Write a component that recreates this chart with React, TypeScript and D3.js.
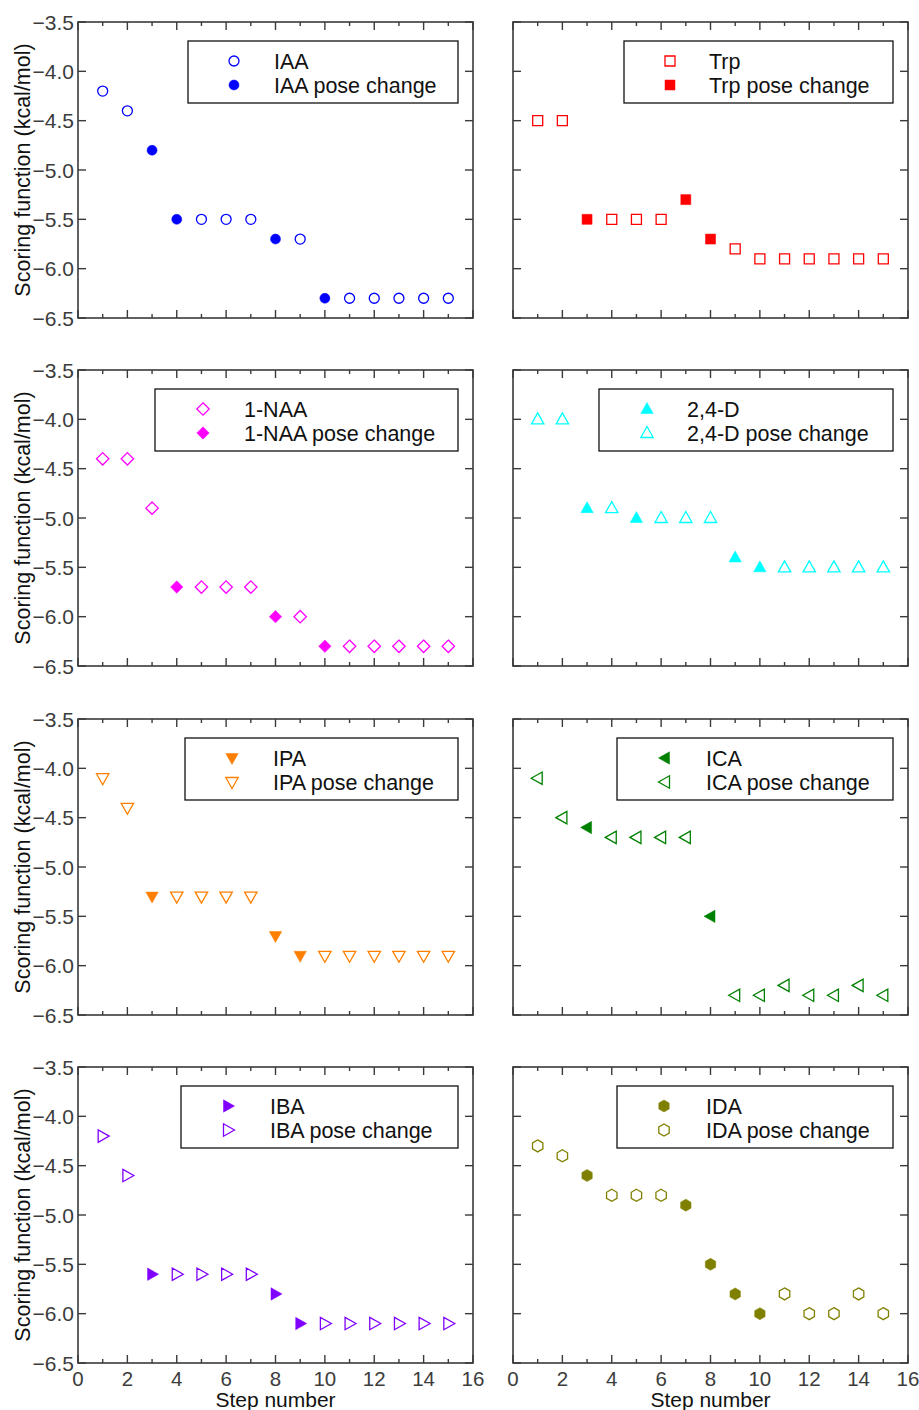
import React from 'react';
import * as d3 from 'd3';

const steps = [1, 2, 3, 4, 5, 6, 7, 8, 9, 10, 11, 12, 13, 14, 15];

const iaaScores = [-4.2, -4.4, -4.8, -5.5, -5.5, -5.5, -5.5, -5.7, -5.7, -6.3, -6.3, -6.3, -6.3, -6.3, -6.3];
const iaaFilledSteps = [3, 4, 8, 10];

const trpScores = [-4.5, -4.5, -5.5, -5.5, -5.5, -5.5, -5.3, -5.7, -5.8, -5.9, -5.9, -5.9, -5.9, -5.9, -5.9];
const trpFilledSteps = [3, 7, 8];

const naaScores = [-4.4, -4.4, -4.9, -5.7, -5.7, -5.7, -5.7, -6.0, -6.0, -6.3, -6.3, -6.3, -6.3, -6.3, -6.3];
const naaFilledSteps = [4, 8, 10];

const d24Scores = [-4.0, -4.0, -4.9, -4.9, -5.0, -5.0, -5.0, -5.0, -5.4, -5.5, -5.5, -5.5, -5.5, -5.5, -5.5];
const d24FilledSteps = [3, 5, 9, 10];

const ipaScores = [-4.1, -4.4, -5.3, -5.3, -5.3, -5.3, -5.3, -5.7, -5.9, -5.9, -5.9, -5.9, -5.9, -5.9, -5.9];
const ipaFilledSteps = [3, 8, 9];

const icaScores = [-4.1, -4.5, -4.6, -4.7, -4.7, -4.7, -4.7, -5.5, -6.3, -6.3, -6.2, -6.3, -6.3, -6.2, -6.3];
const icaFilledSteps = [3, 8];

const ibaScores = [-4.2, -4.6, -5.6, -5.6, -5.6, -5.6, -5.6, -5.8, -6.1, -6.1, -6.1, -6.1, -6.1, -6.1, -6.1];
const ibaFilledSteps = [3, 8, 9];

const idaScores = [-4.3, -4.4, -4.6, -4.8, -4.8, -4.8, -4.9, -5.5, -5.8, -6.0, -5.8, -6.0, -6.0, -5.8, -6.0];
const idaFilledSteps = [3, 7, 8, 9, 10];

const xTicks = [0, 2, 4, 6, 8, 10, 12, 14, 16];
const xMinorTicks = [1, 3, 5, 7, 9, 11, 13, 15];
const yTicks = [-3.5, -4.0, -4.5, -5.0, -5.5, -6.0, -6.5];

type Shape = 'circle' | 'square' | 'diamond' | 'up' | 'down' | 'left' | 'right' | 'hex';

function markerPath(shape: Shape): string {
  switch (shape) {
    case 'circle': {
      const r = 5;
      return `M${r},0A${r},${r} 0 1,1 ${-r},0A${r},${r} 0 1,1 ${r},0Z`;
    }
    case 'square': {
      const h = 5;
      return `M${-h},${-h}L${h},${-h}L${h},${h}L${-h},${h}Z`;
    }
    case 'diamond': {
      const h = 6.2;
      return `M0,${-h}L${h},0L0,${h}L${-h},0Z`;
    }
    case 'up':
      return `M0,-6.5L6.2,4.5L-6.2,4.5Z`;
    case 'down':
      return `M0,6.5L6.2,-4.5L-6.2,-4.5Z`;
    case 'left':
      return `M-6.5,0L4.5,-6.2L4.5,6.2Z`;
    case 'right':
      return `M6.5,0L-4.5,-6.2L-4.5,6.2Z`;
    case 'hex': {
      const r = 6;
      const pts = d3.range(6).map((i) => {
        const a = (Math.PI / 3) * i - Math.PI / 2;
        return [r * Math.cos(a), r * Math.sin(a)];
      });
      return 'M' + pts.map((p) => p.join(',')).join('L') + 'Z';
    }
  }
}

interface Panel {
  scores: number[];
  filled: number[];
  color: string;
  shape: Shape;
  labels: [string, string];
  firstFilled: boolean;
  col: number;
  row: number;
  boxLeft: number;
  markerDx: number;
  textDx: number;
}

const panels: Panel[] = [
  { scores: iaaScores, filled: iaaFilledSteps, color: '#0000ff', shape: 'circle', labels: ['IAA', 'IAA pose change'], firstFilled: false, col: 0, row: 0, boxLeft: 188, markerDx: 46, textDx: 86 },
  { scores: trpScores, filled: trpFilledSteps, color: '#ff0000', shape: 'square', labels: ['Trp', 'Trp pose change'], firstFilled: false, col: 1, row: 0, boxLeft: 624, markerDx: 46, textDx: 85 },
  { scores: naaScores, filled: naaFilledSteps, color: '#ff00ff', shape: 'diamond', labels: ['1-NAA', '1-NAA pose change'], firstFilled: false, col: 0, row: 1, boxLeft: 155, markerDx: 48, textDx: 89 },
  { scores: d24Scores, filled: d24FilledSteps, color: '#00ffff', shape: 'up', labels: ['2,4-D', '2,4-D pose change'], firstFilled: true, col: 1, row: 1, boxLeft: 599, markerDx: 48, textDx: 88 },
  { scores: ipaScores, filled: ipaFilledSteps, color: '#ff7f00', shape: 'down', labels: ['IPA', 'IPA pose change'], firstFilled: true, col: 0, row: 2, boxLeft: 185, markerDx: 47, textDx: 88 },
  { scores: icaScores, filled: icaFilledSteps, color: '#008000', shape: 'left', labels: ['ICA', 'ICA pose change'], firstFilled: true, col: 1, row: 2, boxLeft: 617, markerDx: 48, textDx: 89 },
  { scores: ibaScores, filled: ibaFilledSteps, color: '#7f00ff', shape: 'right', labels: ['IBA', 'IBA pose change'], firstFilled: true, col: 0, row: 3, boxLeft: 181, markerDx: 47, textDx: 89 },
  { scores: idaScores, filled: idaFilledSteps, color: '#808000', shape: 'hex', labels: ['IDA', 'IDA pose change'], firstFilled: true, col: 1, row: 3, boxLeft: 617, markerDx: 47, textDx: 89 },
];

const colX: [number, number][] = [
  [78, 473],
  [513, 908],
];
const rowTop = [22, 370, 719, 1067];
const panelH = 296;

const FONT = '"Liberation Sans", Arial, sans-serif';
const AXIS = '#3a3a3a';
const TICKTXT = '#3c3c3c';

function PanelView({ p }: { p: Panel }) {
  const [x0, x1] = colX[p.col];
  const top = rowTop[p.row];
  const bottom = top + panelH;
  const x = d3.scaleLinear().domain([0, 16]).range([x0, x1]);
  const y = d3.scaleLinear().domain([-3.5, -6.5]).range([top, bottom]);
  const path = markerPath(p.shape);
  const showX = p.row === 3;
  const showY = p.col === 0;
  const boxRight = x1 - 15;
  const boxTop = top + 19;
  const boxBottom = top + 81;
  const legendItems = p.firstFilled ? [true, false] : [false, true];

  return (
    <g>
      <rect x={x0} y={top} width={x1 - x0} height={panelH} fill="none" stroke={AXIS} strokeWidth={1.6} />
      {xTicks.map((t) => (
        <g key={'xt' + t}>
          <line x1={x(t)} x2={x(t)} y1={bottom} y2={bottom - 8} stroke={AXIS} strokeWidth={1.4} />
          <line x1={x(t)} x2={x(t)} y1={top} y2={top + 8} stroke={AXIS} strokeWidth={1.4} />
        </g>
      ))}
      {xMinorTicks.map((t) => (
        <g key={'xm' + t}>
          <line x1={x(t)} x2={x(t)} y1={bottom} y2={bottom - 4} stroke={AXIS} strokeWidth={1.4} />
          <line x1={x(t)} x2={x(t)} y1={top} y2={top + 4} stroke={AXIS} strokeWidth={1.4} />
        </g>
      ))}
      {yTicks.map((t) => (
        <g key={'yt' + t}>
          <line x1={x0} x2={x0 + 8} y1={y(t)} y2={y(t)} stroke={AXIS} strokeWidth={1.4} />
          <line x1={x1} x2={x1 - 8} y1={y(t)} y2={y(t)} stroke={AXIS} strokeWidth={1.4} />
          {showY && (
            <text x={x0 - 4} y={y(t) + 7.5} textAnchor="end" fontFamily={FONT} fontSize={21} fill={TICKTXT}>
              {'\u2212' + Math.abs(t).toFixed(1)}
            </text>
          )}
        </g>
      ))}
      {showX &&
        xTicks.map((t) => (
          <text key={'xl' + t} x={x(t)} y={bottom + 22.5} textAnchor="middle" fontFamily={FONT} fontSize={20.5} fill={TICKTXT}>
            {t}
          </text>
        ))}
      {showX && (
        <text x={(x0 + x1) / 2} y={bottom + 43.5} textAnchor="middle" fontFamily={FONT} fontSize={21} fill="#111">
          Step number
        </text>
      )}
      {showY && (
        <text
          transform={`translate(29.5,${(top + bottom) / 2}) rotate(-90)`}
          textAnchor="middle"
          fontFamily={FONT}
          fontSize={21.5}
          fill="#111"
        >
          Scoring function (kcal/mol)
        </text>
      )}
      {steps.map((s, i) => {
        const isFilled = p.filled.includes(s);
        return (
          <path
            key={'pt' + s}
            d={path}
            transform={`translate(${x(s)},${y(p.scores[i])})`}
            fill={isFilled ? p.color : 'none'}
            stroke={p.color}
            strokeWidth={isFilled ? 0.5 : 1.3}
          />
        );
      })}
      <rect x={p.boxLeft} y={boxTop} width={boxRight - p.boxLeft} height={boxBottom - boxTop} fill="#fff" stroke="#111" strokeWidth={1.3} />
      {legendItems.map((f, k) => {
        const cy = top + 39 + k * 24;
        return (
          <g key={'lg' + k}>
            <path
              d={path}
              transform={`translate(${p.boxLeft + p.markerDx},${cy})`}
              fill={f ? p.color : 'none'}
              stroke={p.color}
              strokeWidth={f ? 0.5 : 1.3}
            />
            <text x={p.boxLeft + p.textDx} y={cy + 7.5} fontFamily={FONT} fontSize={21.5} fill="#111">
              {p.labels[k]}
            </text>
          </g>
        );
      })}
    </g>
  );
}

export default function App() {
  return (
    <svg
      width={919}
      height={1410}
      viewBox="0 0 919 1410"
      style={{ position: 'absolute', left: 0, top: 0, background: '#fff' }}
    >
      <rect x={0} y={0} width={919} height={1410} fill="#fff" />
      {panels.map((p, i) => (
        <PanelView key={i} p={p} />
      ))}
    </svg>
  );
}
